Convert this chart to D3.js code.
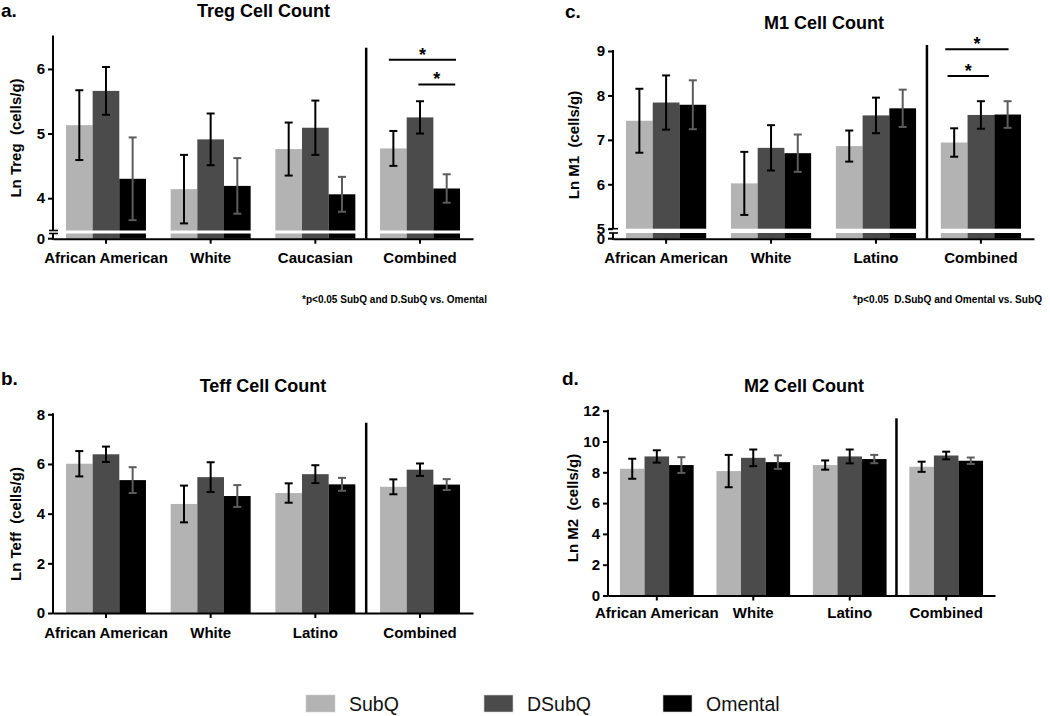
<!DOCTYPE html>
<html><head><meta charset="utf-8">
<script src="https://cdn.jsdelivr.net/npm/d3@7"></script>
<style>body{margin:0;background:#fff}text{font-family:"Liberation Sans",Arial,sans-serif}</style>
</head><body>
<svg id="chart" width="1050" height="716"></svg>
<script>
// ---------- data ----------
const series = ["SubQ", "DSubQ", "Omental"];
const seriesColors = ["#b3b3b3", "#4b4b4b", "#000000"];
const errColors = ["#000000", "#000000", "#5c5c5c"];

const categoriesTreg = ["African American", "White", "Caucasian", "Combined"];
const categoriesOther = ["African American", "White", "Latino", "Combined"];

// Treg (panel a) means / SEM, rows = categories, cols = series
const tregMean = [[5.13, 5.66, 4.30], [4.14, 4.91, 4.19], [4.76, 5.09, 4.06], [4.77, 5.25, 4.15]];
const tregErr  = [[0.54, 0.37, 0.64], [0.53, 0.40, 0.43], [0.41, 0.42, 0.27], [0.27, 0.25, 0.22]];
// M1 (panel c)
const m1Mean = [[7.43, 7.84, 7.79], [6.02, 6.82, 6.70], [6.86, 7.55, 7.71], [6.94, 7.56, 7.57]];
const m1Err  = [[0.72, 0.61, 0.55], [0.71, 0.51, 0.42], [0.35, 0.40, 0.42], [0.32, 0.31, 0.30]];
// Teff (panel b)
const teffMean = [[6.01, 6.39, 5.35], [4.39, 5.47, 4.71], [4.83, 5.59, 5.18], [5.08, 5.77, 5.17]];
const teffErr  = [[0.51, 0.31, 0.52], [0.74, 0.60, 0.44], [0.39, 0.36, 0.26], [0.30, 0.25, 0.22]];
// M2 (panel d)
const m2Mean = [[8.23, 9.03, 8.47], [8.08, 8.94, 8.66], [8.47, 9.03, 8.86], [8.36, 9.09, 8.75]];
const m2Err  = [[0.65, 0.40, 0.51], [1.05, 0.54, 0.44], [0.30, 0.45, 0.27], [0.33, 0.25, 0.21]];

// tick labels
const tregTicks = [4, 5, 6];
const m1Ticks = [5, 6, 7, 8, 9];
const teffTicks = [0, 2, 4, 6, 8];
const m2Ticks = [0, 2, 4, 6, 8, 10, 12];

// significance annotations (on "Combined" group), y in data units
const tregSig = [{from: 0.11, to: 0.95, y: 6.14}, {from: 0.48, to: 0.94, y: 5.76}];
const m1Sig = [{from: 0.055, to: 0.845, y: 9.04}, {from: 0.084, to: 0.60, y: 8.44}];

const footA = "*p<0.05 SubQ and D.SubQ vs. Omental";
const footC = "*p<0.05  D.SubQ and Omental vs. SubQ";

// ---------- drawing ----------
const svg = d3.select("#chart");

function drawPanel(p) {
  const g = svg.append("g");
  const x = d3.scaleBand().domain(p.categories).range([p.x0, p.x1])
    .paddingInner(0.236).paddingOuter(0.124);
  const xs = d3.scaleBand().domain(series).range([0, x.bandwidth()]).padding(0);
  const y = d3.scaleLinear().domain(p.domain).range([p.yBreak, p.yTop]);

  const rows = [];
  p.categories.forEach((c, i) => series.forEach((s, j) => rows.push({c, s, j, v: p.mean[i][j], e: p.err[i][j]})));

  // bars
  g.selectAll("rect.bar").data(rows).join("rect").attr("class", "bar")
    .attr("x", d => x(d.c) + xs(d.s)).attr("width", xs.bandwidth())
    .attr("y", d => y(d.v)).attr("height", d => p.yBreak - y(d.v))
    .attr("fill", d => seriesColors[d.j]);
  if (p.broken) {
    g.selectAll("rect.stub").data(rows).join("rect").attr("class", "stub")
      .attr("x", d => x(d.c) + xs(d.s)).attr("width", xs.bandwidth())
      .attr("y", p.stubTop).attr("height", p.yBase - p.stubTop)
      .attr("fill", d => seriesColors[d.j]);
  }
  // error bars
  const eb = g.selectAll("g.err").data(rows).join("g").attr("class", "err")
    .attr("stroke", d => errColors[d.j]).attr("stroke-width", 2);
  eb.append("line").attr("x1", d => x(d.c) + xs(d.s) + xs.bandwidth() / 2)
    .attr("x2", d => x(d.c) + xs(d.s) + xs.bandwidth() / 2)
    .attr("y1", d => y(d.v + d.e)).attr("y2", d => y(d.v - d.e));
  [1, -1].forEach(sg => {
    eb.append("line").attr("x1", d => x(d.c) + xs(d.s) + xs.bandwidth() / 2 - 4)
      .attr("x2", d => x(d.c) + xs(d.s) + xs.bandwidth() / 2 + 4)
      .attr("y1", d => y(d.v + sg * d.e)).attr("y2", d => y(d.v + sg * d.e));
  });

  // x axis
  const xa = g.append("g").attr("transform", `translate(0,${p.yBase})`)
    .call(d3.axisBottom(x).tickSize(5).tickSizeOuter(0).tickPadding(p.xPad));
  xa.select(".domain").attr("stroke", "#000").attr("stroke-width", 2);
  xa.selectAll(".tick line").attr("stroke", "#000").attr("stroke-width", 2);
  xa.selectAll(".tick text").attr("font-size", 15).attr("font-weight", "bold").attr("fill", "#000")
    .style("font-family", '"Liberation Sans",Arial,sans-serif');

  // y axis
  const ya = g.append("g").attr("transform", `translate(${p.x0},0)`)
    .call(d3.axisLeft(y).tickValues(p.ticks).tickFormat(d3.format("d")).tickSize(5).tickPadding(3));
  ya.select(".domain").remove();
  ya.selectAll(".tick line").attr("stroke", "#000").attr("stroke-width", 2);
  ya.selectAll(".tick text").attr("font-size", 15).attr("font-weight", "bold").attr("fill", "#000")
    .style("font-family", '"Liberation Sans",Arial,sans-serif');
  g.append("line").attr("x1", p.x0).attr("x2", p.x0).attr("y1", p.yTop - 1)
    .attr("y2", p.broken ? p.yBreak : p.yBase + 1).attr("stroke", "#000").attr("stroke-width", 2);
  if (p.broken) {
    g.append("line").attr("x1", p.x0).attr("x2", p.x0).attr("y1", p.stubTop).attr("y2", p.yBase + 1)
      .attr("stroke", "#000").attr("stroke-width", 2);
    [p.yBreak, p.stubTop].forEach(yy => g.append("line").attr("x1", p.x0 - 4).attr("x2", p.x0 + 5)
      .attr("y1", yy).attr("y2", yy).attr("stroke", "#000").attr("stroke-width", 1.6));
    // zero tick
    g.append("line").attr("x1", p.x0 - 5).attr("x2", p.x0).attr("y1", p.yBase).attr("y2", p.yBase)
      .attr("stroke", "#000").attr("stroke-width", 2);
    g.append("text").attr("x", p.x0 - 8).attr("y", p.yBase).attr("dy", "0.36em")
      .attr("text-anchor", "end").attr("font-size", 15).attr("font-weight", "bold").text("0");
  }

  // divider
  const xDiv = (x(p.categories[2]) + x.bandwidth() + x(p.categories[3])) / 2 - 1.5;
  g.append("line").attr("x1", xDiv).attr("x2", xDiv).attr("y1", p.divTop).attr("y2", p.yBase)
    .attr("stroke", "#000").attr("stroke-width", 2.5);

  // significance
  if (p.sig) {
    const gx = x(p.categories[3]), bw = x.bandwidth();
    p.sig.forEach(s => {
      const x1 = gx + s.from * bw, x2 = gx + s.to * bw, yy = y(s.y);
      g.append("line").attr("x1", x1).attr("x2", x2).attr("y1", yy).attr("y2", yy)
        .attr("stroke", "#000").attr("stroke-width", 2);
      g.append("text").attr("x", (x1 + x2) / 2).attr("y", yy + 1).attr("text-anchor", "middle")
        .attr("font-size", 18).attr("font-weight", "bold").text("*");
    });
  }

  // title, panel letter, y label
  g.append("text").attr("x", p.titleX).attr("y", p.titleY).attr("text-anchor", "middle")
    .attr("font-size", 18).attr("font-weight", "bold").text(p.title);
  g.append("text").attr("x", p.letterX).attr("y", p.letterY)
    .attr("font-size", 19).attr("font-weight", "bold").text(p.letter);
  g.append("text").attr("transform", `translate(${p.ylabX},${p.ylabY}) rotate(-90)`)
    .attr("text-anchor", "middle").attr("dominant-baseline", "central")
    .attr("font-size", 15).attr("font-weight", "bold").style("white-space", "pre").text(p.ylab);
}

drawPanel({categories: categoriesTreg, mean: tregMean, err: tregErr, ticks: tregTicks,
  x0: 53, x1: 473, yBase: 238.7, broken: true, domain: [3.5, 6.5], yTop: 36.6, yBreak: 230.5, stubTop: 233.5,
  divTop: 47.7, xPad: 9, sig: tregSig, title: "Treg Cell Count", titleX: 263.5, titleY: 17,
  letter: "a.", letterX: 1, letterY: 17, ylab: "Ln Treg  (cells/g)", ylabX: 15, ylabY: 138});

drawPanel({categories: categoriesOther, mean: m1Mean, err: m1Err, ticks: m1Ticks,
  x0: 613, x1: 1034, yBase: 238.7, broken: true, domain: [5, 9], yTop: 51, yBreak: 228.7, stubTop: 233,
  divTop: 45, xPad: 9, sig: m1Sig, title: "M1 Cell Count", titleX: 824, titleY: 29,
  letter: "c.", letterX: 565, letterY: 18, ylab: "Ln M1  (cells/g)", ylabX: 573, ylabY: 145});

drawPanel({categories: categoriesOther, mean: teffMean, err: teffErr, ticks: teffTicks,
  x0: 53, x1: 473, yBase: 613, broken: false, domain: [0, 8], yTop: 414.3, yBreak: 613,
  divTop: 422.7, xPad: 9, sig: null, title: "Teff Cell Count", titleX: 263, titleY: 392,
  letter: "b.", letterX: 1, letterY: 385, ylab: "Ln Teff  (cells/g)", ylabX: 15, ylabY: 524});

drawPanel({categories: categoriesOther, mean: m2Mean, err: m2Err, ticks: m2Ticks,
  x0: 608, x1: 995, yBase: 595.5, broken: false, domain: [0, 12], yTop: 410.7, yBreak: 595.5,
  divTop: 418.3, xPad: 7, sig: null, title: "M2 Cell Count", titleX: 804, titleY: 392,
  letter: "d.", letterX: 562, letterY: 385, ylab: "Ln M2  (cells/g)", ylabX: 572, ylabY: 508});

// footnotes
svg.append("text").attr("x", 302).attr("y", 303).attr("font-size", 10.5).attr("font-weight", "bold")
  .attr("textLength", 185).attr("lengthAdjust", "spacingAndGlyphs")
  .style("font-family", '"Liberation Sans Narrow","Liberation Sans",Arial,sans-serif').style("white-space", "pre").text(footA);
svg.append("text").attr("x", 853).attr("y", 303).attr("font-size", 10.5).attr("font-weight", "bold")
  .attr("textLength", 189).attr("lengthAdjust", "spacingAndGlyphs")
  .style("font-family", '"Liberation Sans Narrow","Liberation Sans",Arial,sans-serif').style("white-space", "pre").text(footC);

// legend
const legendX = [306, 484, 663];
const lg = svg.selectAll("g.legend").data(series).join("g").attr("class", "legend")
  .attr("transform", (d, i) => `translate(${legendX[i]},695)`);
lg.append("rect").attr("width", 29).attr("height", 17).attr("fill", (d, i) => seriesColors[i])
  .attr("stroke", "#cfcfcf").attr("stroke-width", 0.6);
lg.append("text").attr("x", 43).attr("y", 15.5).attr("font-size", 19.5).attr("fill", "#111").text(d => d);
</script>
</body></html>
